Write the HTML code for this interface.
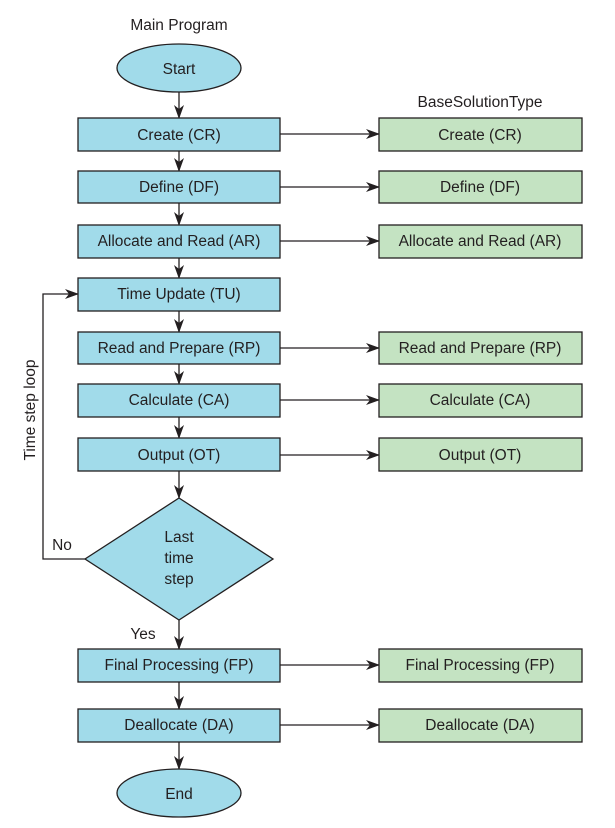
<!DOCTYPE html>
<html><head><meta charset="utf-8"><style>
html,body{margin:0;padding:0;background:#fff;}
svg{display:block;}
text{font-family:"Liberation Sans Narrow","Liberation Sans",sans-serif;font-size:15.5px;fill:#231f20;}
</style></head><body>
<svg width="615" height="828" viewBox="0 0 615 828" xmlns="http://www.w3.org/2000/svg">
<defs>
<marker id="a" markerWidth="14" markerHeight="10" refX="13" refY="5" orient="auto" markerUnits="userSpaceOnUse">
<path d="M0,0 L14,5 L0,10 L4,5 Z" fill="#231f20"/>
</marker>
</defs>
<g stroke="#231f20" stroke-width="1.3" fill="none">
<!-- vertical main arrows -->
<line x1="179" y1="92" x2="179" y2="118" marker-end="url(#a)"/>
<line x1="179" y1="151" x2="179" y2="171" marker-end="url(#a)"/>
<line x1="179" y1="203" x2="179" y2="225" marker-end="url(#a)"/>
<line x1="179" y1="258" x2="179" y2="278" marker-end="url(#a)"/>
<line x1="179" y1="311" x2="179" y2="332" marker-end="url(#a)"/>
<line x1="179" y1="364" x2="179" y2="384" marker-end="url(#a)"/>
<line x1="179" y1="417" x2="179" y2="438" marker-end="url(#a)"/>
<line x1="179" y1="471" x2="179" y2="498" marker-end="url(#a)"/>
<line x1="179" y1="620" x2="179" y2="649" marker-end="url(#a)"/>
<line x1="179" y1="682" x2="179" y2="709" marker-end="url(#a)"/>
<line x1="179" y1="742" x2="179" y2="769" marker-end="url(#a)"/>
<!-- horizontal arrows -->
<line x1="280" y1="134" x2="379" y2="134" marker-end="url(#a)"/>
<line x1="280" y1="187" x2="379" y2="187" marker-end="url(#a)"/>
<line x1="280" y1="241" x2="379" y2="241" marker-end="url(#a)"/>
<line x1="280" y1="348" x2="379" y2="348" marker-end="url(#a)"/>
<line x1="280" y1="400" x2="379" y2="400" marker-end="url(#a)"/>
<line x1="280" y1="455" x2="379" y2="455" marker-end="url(#a)"/>
<line x1="280" y1="665" x2="379" y2="665" marker-end="url(#a)"/>
<line x1="280" y1="725" x2="379" y2="725" marker-end="url(#a)"/>
<!-- loop -->
<polyline points="85,559 43,559 43,294 78,294" marker-end="url(#a)"/>
</g>
<g stroke="#231f20" stroke-width="1.3" fill="#a1dbea">
<ellipse cx="179" cy="68" rx="62" ry="24"/>
<ellipse cx="179" cy="793" rx="62" ry="24"/>
<rect x="78" y="118" width="202" height="33"/>
<rect x="78" y="171" width="202" height="32"/>
<rect x="78" y="225" width="202" height="33"/>
<rect x="78" y="278" width="202" height="33"/>
<rect x="78" y="332" width="202" height="32"/>
<rect x="78" y="384" width="202" height="33"/>
<rect x="78" y="438" width="202" height="33"/>
<polygon points="179,498 273,559 179,620 85,559"/>
<rect x="78" y="649" width="202" height="33"/>
<rect x="78" y="709" width="202" height="33"/>
</g>
<g stroke="#231f20" stroke-width="1.3" fill="#c4e3c2">
<rect x="379" y="118" width="203" height="33"/>
<rect x="379" y="171" width="203" height="32"/>
<rect x="379" y="225" width="203" height="33"/>
<rect x="379" y="332" width="203" height="32"/>
<rect x="379" y="384" width="203" height="33"/>
<rect x="379" y="438" width="203" height="33"/>
<rect x="379" y="649" width="203" height="33"/>
<rect x="379" y="709" width="203" height="33"/>
</g>
<g text-anchor="middle">
<text x="179" y="30">Main Program</text>
<text x="480" y="107">BaseSolutionType</text>
<text x="179" y="74">Start</text>
<text x="179" y="799">End</text>
<text x="179" y="140">Create (CR)</text>
<text x="179" y="192">Define (DF)</text>
<text x="179" y="246">Allocate and Read (AR)</text>
<text x="179" y="299">Time Update (TU)</text>
<text x="179" y="353">Read and Prepare (RP)</text>
<text x="179" y="405">Calculate (CA)</text>
<text x="179" y="460">Output (OT)</text>
<text x="179" y="542">Last</text>
<text x="179" y="563">time</text>
<text x="179" y="584">step</text>
<text x="179" y="670">Final Processing (FP)</text>
<text x="179" y="730">Deallocate (DA)</text>
<text x="480" y="140">Create (CR)</text>
<text x="480" y="192">Define (DF)</text>
<text x="480" y="246">Allocate and Read (AR)</text>
<text x="480" y="353">Read and Prepare (RP)</text>
<text x="480" y="405">Calculate (CA)</text>
<text x="480" y="460">Output (OT)</text>
<text x="480" y="670">Final Processing (FP)</text>
<text x="480" y="730">Deallocate (DA)</text>
<text x="62" y="550">No</text>
<text x="143" y="639">Yes</text>
<text x="0" y="0" transform="translate(35,410) rotate(-90)">Time step loop</text>
</g>
</svg>
</body></html>
